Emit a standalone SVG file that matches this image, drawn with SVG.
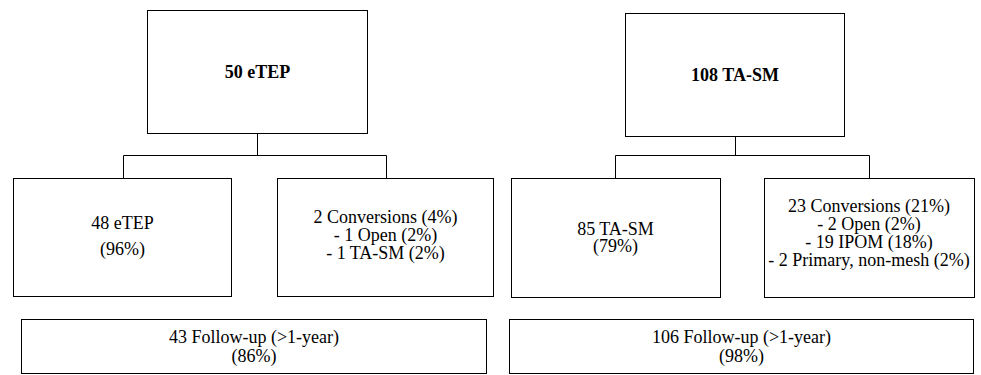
<svg xmlns="http://www.w3.org/2000/svg" width="981" height="375" viewBox="0 0 981 375">
<style>
.box{fill:#fff;stroke:#000;stroke-width:1}
.con{fill:none;stroke:#000;stroke-width:1}
text{font-family:"Liberation Serif","Times New Roman",serif;font-size:18px;fill:#000;text-anchor:middle}
.b{font-weight:bold}
</style>
<rect width="981" height="375" fill="#fff"/>
<g id="connectors">
<path class="con" d="M257.5 133.5V155.5M123.5 155.5H386.5M123.5 155.5V178.5M386.5 155.5V178.5"/>
<path class="con" d="M735.5 136.5V155.5M615.5 155.5H869.5M615.5 155.5V178.5M869.5 155.5V178.5"/>
</g>
<g id="n_etep">
<rect class="box" x="147.5" y="10.5" width="220" height="123"/>
<text class="b" x="257.5" y="78">50 eTEP</text>
</g>
<g id="n_tasm">
<rect class="box" x="625.5" y="13.5" width="219" height="123"/>
<text class="b" x="735" y="81">108 TA-SM</text>
</g>
<g id="n_etep48">
<rect class="box" x="13.5" y="178.5" width="218" height="118"/>
<text x="122.5" y="229">48 eTEP</text>
<text x="122.5" y="255">(96%)</text>
</g>
<g id="n_conv2">
<rect class="box" x="277.5" y="178.5" width="216" height="118"/>
<text x="385.5" y="223">2 Conversions (4%)</text>
<text x="385.5" y="241">- 1 Open (2%)</text>
<text x="385.5" y="259">- 1 TA-SM (2%)</text>
</g>
<g id="n_tasm85">
<rect class="box" x="511.5" y="178.5" width="209" height="119"/>
<text x="615.5" y="235">85 TA-SM</text>
<text x="615.5" y="252">(79%)</text>
</g>
<g id="n_conv23">
<rect class="box" x="764.5" y="178.5" width="210" height="119"/>
<text x="869" y="212">23 Conversions (21%)</text>
<text x="869" y="230">- 2 Open (2%)</text>
<text x="869" y="248">- 19 IPOM (18%)</text>
<text x="869" y="265.5">- 2 Primary, non-mesh (2%)</text>
</g>
<g id="n_fu43">
<rect class="box" x="21.5" y="319.5" width="465" height="54"/>
<text x="254" y="343">43 Follow-up (&gt;1-year)</text>
<text x="254" y="362">(86%)</text>
</g>
<g id="n_fu106">
<rect class="box" x="509.5" y="319.5" width="464" height="54"/>
<text x="741.5" y="343">106 Follow-up (&gt;1-year)</text>
<text x="741.5" y="362">(98%)</text>
</g>
</svg>
